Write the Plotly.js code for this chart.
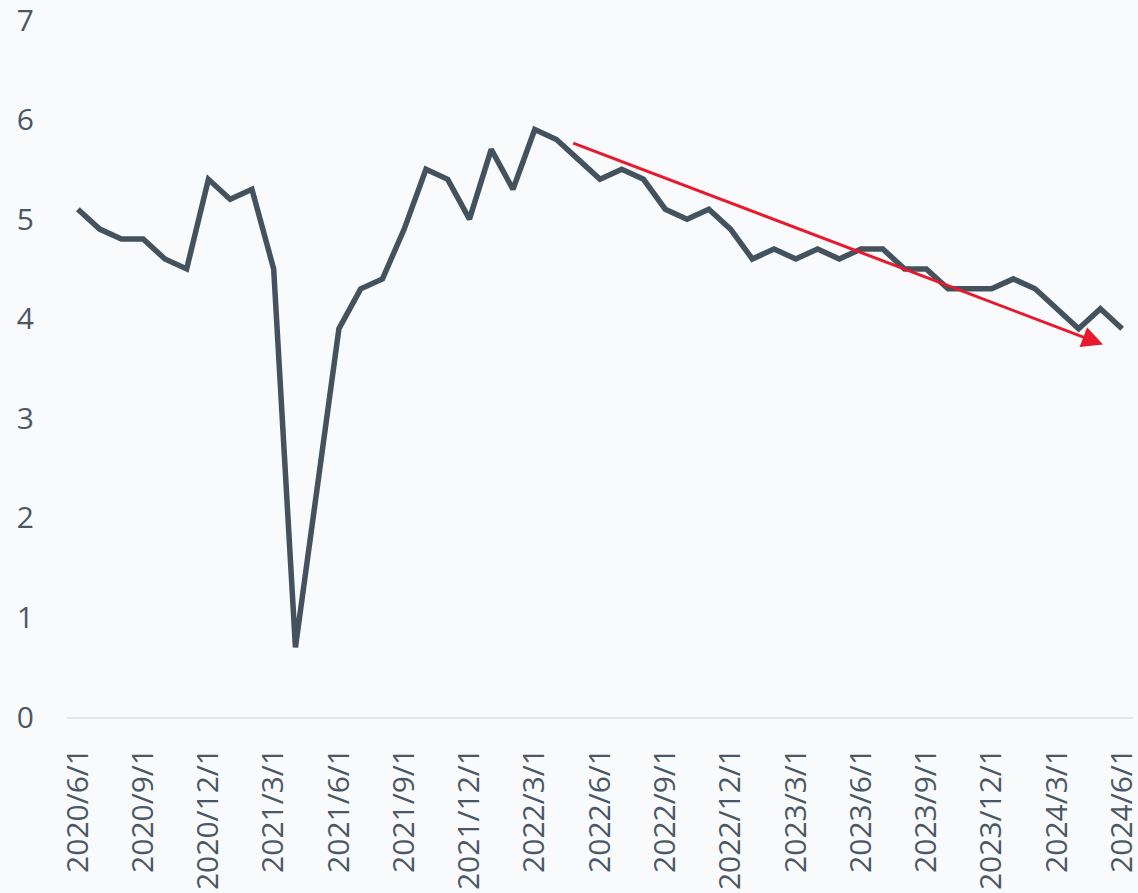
<!DOCTYPE html>
<html>
<head>
<meta charset="utf-8">
<script src="https://cdn.plot.ly/plotly-3.0.1.min.js"></script>
<style>
html,body{margin:0;padding:0;background:#f9fafb;}
#chart{width:1138px;height:893px;}
</style>
</head>
<body>
<div id="chart"></div>
<script>
const months = [
  "2020/6/1","2020/7/1","2020/8/1","2020/9/1","2020/10/1","2020/11/1","2020/12/1",
  "2021/1/1","2021/2/1","2021/3/1","2021/4/1","2021/5/1","2021/6/1","2021/7/1","2021/8/1","2021/9/1","2021/10/1","2021/11/1","2021/12/1",
  "2022/1/1","2022/2/1","2022/3/1","2022/4/1","2022/5/1","2022/6/1","2022/7/1","2022/8/1","2022/9/1","2022/10/1","2022/11/1","2022/12/1",
  "2023/1/1","2023/2/1","2023/3/1","2023/4/1","2023/5/1","2023/6/1","2023/7/1","2023/8/1","2023/9/1","2023/10/1","2023/11/1","2023/12/1",
  "2024/1/1","2024/2/1","2024/3/1","2024/4/1","2024/5/1","2024/6/1"
];
const values = [
  5.1,4.9,4.8,4.8,4.6,4.5,5.4,
  5.2,5.3,4.5,0.7,2.3,3.9,4.3,4.4,4.9,5.5,5.4,5.0,
  5.7,5.3,5.9,5.8,5.6,5.4,5.5,5.4,5.1,5.0,5.1,4.9,
  4.6,4.7,4.6,4.7,4.6,4.7,4.7,4.5,4.5,4.3,4.3,4.3,
  4.4,4.3,4.1,3.9,4.1,3.9
];
const tickLabels = [
  "2020/6/1","2020/9/1","2020/12/1","2021/3/1","2021/6/1","2021/9/1","2021/12/1",
  "2022/3/1","2022/6/1","2022/9/1","2022/12/1","2023/3/1","2023/6/1","2023/9/1",
  "2023/12/1","2024/3/1","2024/6/1"
];
const yTicks = [0,1,2,3,4,5,6,7];
// trend arrow: [x index, y value] for tail and head
const arrowTail = [22.7, 5.77];
const arrowHead = [47.12, 3.74];

const textColor = "#4a5866";
const font = {family: "Open Sans, sans-serif", size: 30, color: textColor};

Plotly.newPlot("chart", [{
  type: "scatter",
  mode: "lines",
  x: months,
  y: values,
  line: {color: "#44525e", width: 5.5},
  hoverinfo: "x+y"
}], {
  width: 1138, height: 893,
  paper_bgcolor: "#f9fafb",
  plot_bgcolor: "#f9fafb",
  margin: {l: 67, r: 5, t: 20, b: 176},
  showlegend: false,
  font: font,
  xaxis: {
    type: "category",
    range: [-0.5, months.length - 0.5],
    tickmode: "array",
    tickvals: tickLabels,
    ticktext: tickLabels,
    tickangle: -90,
    tickfont: font,
    showgrid: false,
    zeroline: false,
    showline: true,
    linecolor: "#e1e6ea",
    linewidth: 2,
    ticks: "outside",
    ticklen: 17,
    tickcolor: "rgba(0,0,0,0)",
    ticklabeloverflow: "allow",
    automargin: false,
    fixedrange: true
  },
  yaxis: {
    range: [0, 7],
    tickmode: "array",
    tickvals: yTicks,
    tickfont: font,
    showgrid: false,
    zeroline: false,
    showline: false,
    ticks: "outside",
    ticklen: 26,
    tickcolor: "rgba(0,0,0,0)",
    ticklabeloverflow: "allow",
    automargin: false,
    fixedrange: true
  },
  annotations: [{
    x: arrowHead[0], y: arrowHead[1],
    ax: arrowTail[0], ay: arrowTail[1],
    xref: "x", yref: "y", axref: "x", ayref: "y",
    showarrow: true,
    arrowhead: 2,
    arrowsize: 1.4,
    arrowwidth: 3,
    arrowcolor: "#e8192c",
    text: ""
  }]
}, {displayModeBar: false, staticPlot: true});
</script>
</body>
</html>
